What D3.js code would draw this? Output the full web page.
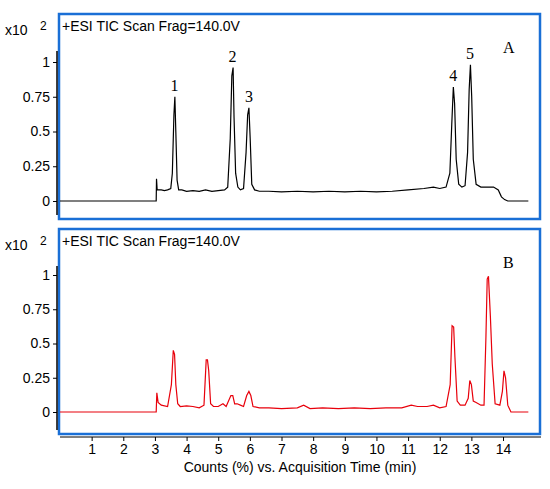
<!DOCTYPE html>
<html lang="en">
<head>
<meta charset="UTF-8">
<title>TIC</title>
<style>
  body { margin: 0; background: #fff; }
  text { font-family: "Liberation Sans", Arial, sans-serif; }
  text.serif { font-family: "Liberation Serif", serif; }
</style>
</head>
<body>
<svg id="chart" width="550" height="489"></svg>
<script src="https://cdn.jsdelivr.net/npm/d3@7"></script>
<script>
// retention time (min) and counts (x10^2)
var timeA = [0, 3.04, 3.05, 3.07, 3.1, 3.2, 3.3, 3.4, 3.5, 3.55, 3.6, 3.63, 3.66, 3.7, 3.75, 3.85, 4.0, 4.2, 4.4, 4.6, 4.8, 5.0, 5.2, 5.3, 5.38, 5.43, 5.47, 5.5, 5.55, 5.62, 5.7, 5.8, 5.88, 5.93, 5.97, 6.01, 6.06, 6.15, 6.3, 6.6, 7.0, 7.5, 8.0, 8.5, 9.0, 9.5, 10.0, 10.5, 11.0, 11.5, 11.8, 12.0, 12.2, 12.32, 12.38, 12.43, 12.47, 12.52, 12.6, 12.7, 12.8, 12.88, 12.93, 12.97, 13.01, 13.06, 13.15, 13.3, 13.5, 13.7, 13.85, 13.95, 14.05, 14.15, 14.3, 14.8];
var countA = [0, 0, 0.16, 0.08, 0.08, 0.08, 0.075, 0.08, 0.09, 0.2, 0.62, 0.75, 0.5, 0.15, 0.08, 0.08, 0.07, 0.075, 0.07, 0.08, 0.07, 0.075, 0.08, 0.1, 0.45, 0.9, 0.96, 0.6, 0.2, 0.1, 0.08, 0.09, 0.35, 0.62, 0.67, 0.45, 0.12, 0.08, 0.07, 0.07, 0.065, 0.07, 0.065, 0.07, 0.065, 0.07, 0.065, 0.07, 0.08, 0.09, 0.1, 0.09, 0.1, 0.2, 0.55, 0.82, 0.7, 0.3, 0.12, 0.1, 0.11, 0.35, 0.8, 0.98, 0.75, 0.3, 0.12, 0.1, 0.1, 0.1, 0.08, 0.03, 0.01, 0, 0, 0];
var timeB = [0, 3.04, 3.06, 3.1, 3.2, 3.4, 3.52, 3.58, 3.62, 3.66, 3.72, 3.8, 4.0, 4.2, 4.4, 4.55, 4.62, 4.66, 4.7, 4.76, 4.85, 5.0, 5.15, 5.25, 5.4, 5.46, 5.52, 5.6, 5.7, 5.8, 5.9, 5.97, 6.03, 6.1, 6.3, 6.6, 7.0, 7.5, 7.7, 7.9, 8.3, 8.8, 9.3, 9.8, 10.3, 10.8, 11.1, 11.3, 11.6, 11.8, 12.0, 12.2, 12.33, 12.39, 12.44, 12.48, 12.55, 12.65, 12.8, 12.9, 12.95, 13.0, 13.06, 13.15, 13.3, 13.4, 13.46, 13.5, 13.54, 13.6, 13.66, 13.75, 13.9, 13.98, 14.03, 14.08, 14.15, 14.25, 14.8];
var countB = [0, 0, 0.14, 0.07, 0.05, 0.04, 0.2, 0.45, 0.42, 0.2, 0.06, 0.04, 0.045, 0.04, 0.03, 0.05, 0.38, 0.38, 0.3, 0.06, 0.04, 0.04, 0.06, 0.04, 0.12, 0.12, 0.06, 0.06, 0.05, 0.04, 0.12, 0.15, 0.12, 0.04, 0.03, 0.03, 0.025, 0.03, 0.05, 0.025, 0.03, 0.025, 0.03, 0.025, 0.03, 0.03, 0.05, 0.04, 0.04, 0.05, 0.03, 0.04, 0.2, 0.63, 0.62, 0.4, 0.08, 0.05, 0.05, 0.1, 0.23, 0.2, 0.08, 0.07, 0.05, 0.05, 0.55, 0.97, 0.99, 0.7, 0.35, 0.06, 0.05, 0.15, 0.3, 0.25, 0.05, 0, 0];
var peakLabels = ["1", "2", "3", "4", "5"];
var peakTimes = [3.62, 5.45, 5.97, 12.43, 12.96];
var peakHeights = [0.75, 0.96, 0.67, 0.82, 0.98];
var yTicks = [0, 0.25, 0.5, 0.75, 1];
var xTicks = [1, 2, 3, 4, 5, 6, 7, 8, 9, 10, 11, 12, 13, 14];

var svg = d3.select("#chart");
var x = d3.scaleLinear().domain([0, 15.2]).range([60, 541]);

function panel(top, zeroY, oneY, times, counts, color, letter) {
    var y = d3.scaleLinear().domain([0, 1]).range([zeroY, oneY]);
    // blue frame
    svg.append("rect").attr("x", 59).attr("y", top).attr("width", 481).attr("height", 205)
        .attr("fill", "none").attr("stroke", "#1a6fd6").attr("stroke-width", 2.5);
    // y axis
    var ax = svg.append("g").attr("transform", "translate(57,0)")
        .call(d3.axisLeft(y).tickValues(yTicks).tickSize(4).tickFormat(d3.format("")));
    ax.select(".domain").attr("d", "M0," + (top + 37) + "V" + (top + 201)).attr("stroke-width", 1.5);
    ax.selectAll("text").attr("font-size", 14).attr("fill", "#000");
    svg.append("text").attr("x", 5).attr("y", top + 21).attr("font-size", 14).text("x10");
    svg.append("text").attr("x", 40).attr("y", top + 16).attr("font-size", 12).text("2");
    svg.append("text").attr("x", 62).attr("y", top + 17).attr("font-size", 14).text("+ESI TIC Scan Frag=140.0V");
    svg.append("text").attr("class", "serif").attr("x", 503).attr("y", top + 39)
        .attr("font-size", 16).text(letter);
    var line = d3.line().x(function (d, i) { return x(times[i]); }).y(function (d) { return y(d); });
    svg.append("path").attr("d", line(counts)).attr("fill", "none").attr("stroke", color).attr("stroke-width", 1.2);
    return y;
}

var yA = panel(14, 201, 62, timeA, countA, "#000", "A");
svg.selectAll(".peak").data(peakLabels).enter().append("text")
    .attr("class", "serif")
    .attr("x", function (d, i) { return x(peakTimes[i]); })
    .attr("y", function (d, i) { return yA(peakHeights[i]) - 6; })
    .attr("text-anchor", "middle").attr("font-size", 16)
    .text(function (d) { return d; });

panel(229, 412, 275, timeB, countB, "#e8000b", "B");

var xa = svg.append("g").attr("transform", "translate(0,437)")
    .call(d3.axisBottom(x).tickValues(xTicks).tickSize(4).tickFormat(d3.format("d")));
xa.select(".domain").attr("d", "M60,0H541");
xa.selectAll("text").attr("font-size", 14).attr("fill", "#000");
svg.append("text").attr("x", 300).attr("y", 472).attr("text-anchor", "middle").attr("font-size", 14)
    .text("Counts (%) vs. Acquisition Time (min)");
</script>
</body>
</html>
